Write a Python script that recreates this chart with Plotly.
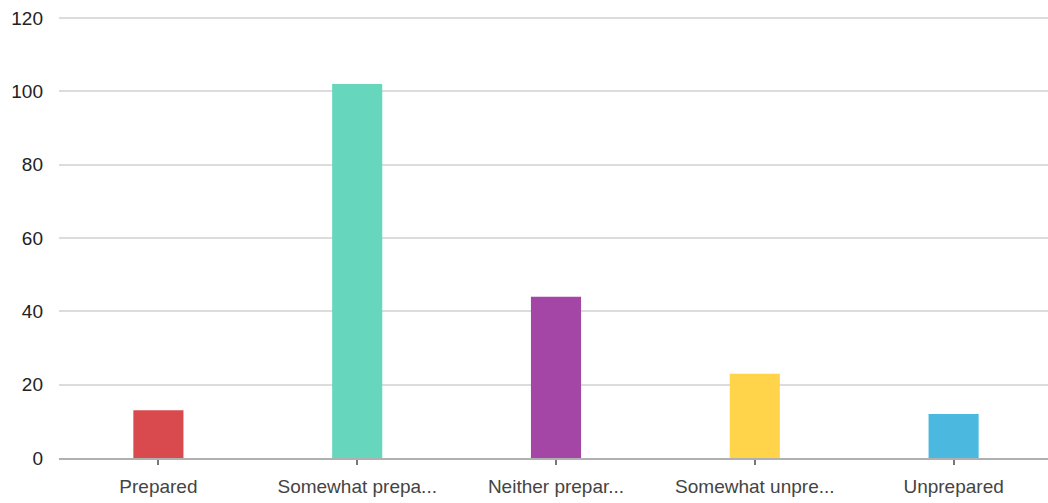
import plotly.graph_objects as go

# Survey responses: how prepared respondents feel
categories = ["Prepared", "Somewhat prepa...", "Neither prepar...", "Somewhat unpre...", "Unprepared"]
counts = [13, 102, 44, 23, 12]
bar_colors = ["#d84a4d", "#66d7bc", "#a346a5", "#ffd44a", "#4bb8e0"]
y_ticks = [0, 20, 40, 60, 80, 100, 120]

fig = go.Figure(
    go.Bar(
        x=categories,
        y=counts,
        marker=dict(color=bar_colors, line=dict(width=0)),
        hoverinfo="x+y",
    )
)

fig.update_layout(
    width=1053,
    height=503,
    margin=dict(l=59, r=0, t=17, b=45, autoexpand=False),
    paper_bgcolor="white",
    plot_bgcolor="white",
    bargap=0.748,
    showlegend=False,
    font=dict(family="Liberation Sans, Arial, sans-serif", size=19, color="#222222"),
)

# a touch of headroom so the 120 gridline is drawn inside the plot area
fig.update_yaxes(
    range=[0, 120.3],
    tickvals=y_ticks,
    showgrid=True,
    gridcolor="#dcdcdc",
    gridwidth=1.5,
    zeroline=False,
    showline=False,
    ticks="",
    ticklabelstandoff=15,
    tickfont=dict(size=19, color="#222222"),
)

fig.update_xaxes(
    showgrid=False,
    showline=True,
    linecolor="#b0b0b0",
    linewidth=1.5,
    ticks="outside",
    ticklen=5,
    tickwidth=1.5,
    tickcolor="#777777",
    ticklabelstandoff=5,
    tickfont=dict(size=19, color="#444444"),
)

# keep the page free of scrollbars; the plot runs to the right edge
fig.write_html(
    "out.html",
    post_script=(
        "document.documentElement.style.overflow='hidden';"
        "document.body.style.margin='0';"
        "document.body.style.overflow='hidden';"
    ),
)
